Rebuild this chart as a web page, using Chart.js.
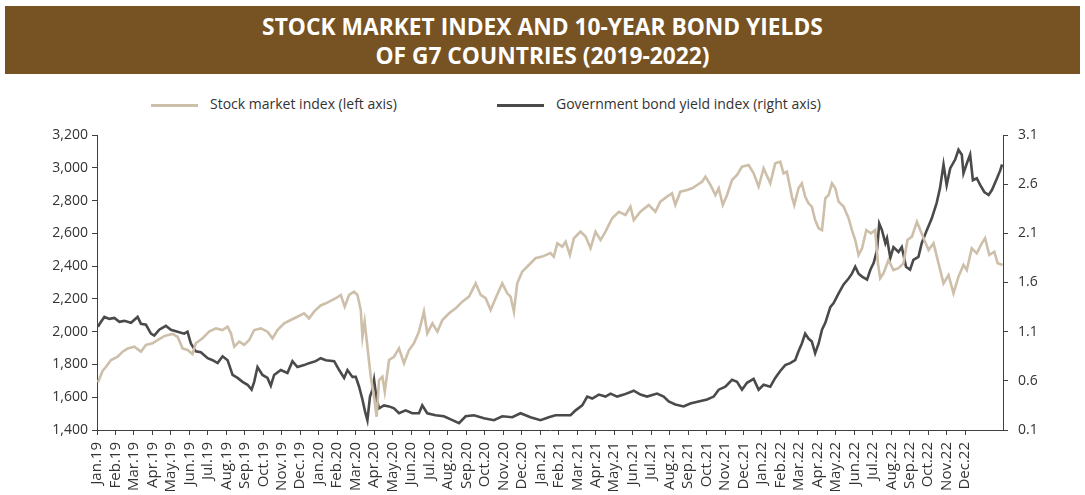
<!DOCTYPE html>
<html>
<head>
<meta charset="utf-8">
<script src="https://cdn.jsdelivr.net/npm/chart.js@4"></script>
<style>
  body { margin: 0; background: #fff; font-family: "Open Sans", sans-serif; }
  #banner {
    position: absolute; left: 5px; top: 6px; width: 1075px; height: 68px;
    background: #775222; color: #fff; text-align: center;
  }
  #banner div {
    font-weight: bold; font-size: 23px; line-height: 29px;
    transform: scaleX(0.99); white-space: nowrap;
  }
  #banner .l1 { margin-top: 6px; }
  #legend { position: absolute; top: 94px; left: 0; width: 1085px; height: 20px; font-size: 14px; color: #333; }
  .item { position: absolute; top: 0; white-space: nowrap; line-height: 20px; }
  .swatch { display: inline-block; width: 47px; height: 3px; vertical-align: middle; margin-right: 12px; }
  #wrap { position: absolute; left: 0; top: 80px; width: 1085px; height: 415px; }
</style>
</head>
<body>
<div id="banner"><div class="l1">STOCK MARKET INDEX AND 10-YEAR BOND YIELDS</div><div>OF G7 COUNTRIES (2019-2022)</div></div>
<div id="legend"></div>
<div id="wrap"><canvas id="chart" width="1085" height="415"></canvas></div>
<script>
// month axis: 0 = Jan 2019
var monthLabels = ['Jan.19','Feb.19','Mar.19','Apr.19','May.19','Jun.19','Jul.19','Aug.19','Sep.19','Oct.19','Nov.19','Dec.19',
  'Jan.20','Feb.20','Mar.20','Apr.20','May.20','Jun.20','Jul.20','Aug.20','Sep.20','Oct.20','Nov.20','Dec.20',
  'Jan.21','Feb.21','Mar.21','Apr.21','May.21','Jun.21','Jul.21','Aug.21','Sep.21','Oct.21','Nov.21','Dec.21',
  'Jan.22','Feb.22','Mar.22','Apr.22','May.22','Jun.22','Jul.22','Aug.22','Sep.22','Oct.22','Nov.22','Dec.22'];

var leftTicks = [1400, 1600, 1800, 2000, 2200, 2400, 2600, 2800, 3000, 3200];
var rightTicks = [0.1, 0.6, 1.1, 1.6, 2.1, 2.6, 3.1];

var stockMonths = [0.05,0.3,0.49,0.76,1.12,1.39,1.66,2.02,2.38,2.65,3.01,3.28,3.64,4.09,4.36,4.63,4.9,5.17,5.35,5.71,
  6.07,6.44,6.8,7.07,7.25,7.43,7.7,7.97,8.24,8.51,8.87,9.23,9.5,9.77,10.13,10.49,10.85,11.21,11.48,11.75,
  12.11,12.39,12.93,13.2,13.41,13.65,13.92,14.1,14.28,14.37,14.49,14.64,14.82,15.0,15.14,15.27,15.45,15.58,15.81,16.08,
  16.35,16.62,16.89,17.16,17.43,17.7,17.88,18.16,18.43,18.7,19.06,19.42,19.78,20.14,20.5,20.77,21.04,21.31,21.58,21.94,
  22.21,22.39,22.57,22.75,23.02,23.38,23.74,24.1,24.55,24.73,24.92,25.19,25.37,25.6,25.82,26.18,26.45,26.72,26.99,27.26,
  27.53,27.89,28.25,28.61,28.88,29.06,29.42,29.87,30.23,30.5,30.86,31.13,31.31,31.58,31.95,32.22,32.49,32.76,32.94,33.21,
  33.48,33.66,33.88,34.11,34.38,34.65,34.92,35.28,35.55,35.82,36.09,36.45,36.72,36.99,37.17,37.35,37.62,37.75,37.98,38.16,
  38.34,38.52,38.7,38.88,39.07,39.25,39.43,39.61,39.79,39.97,40.15,40.42,40.69,40.87,41.05,41.23,41.42,41.65,41.9,42.13,
  42.28,42.4,42.58,42.85,43.12,43.39,43.66,43.88,44.12,44.39,44.57,44.79,45.02,45.29,45.56,45.83,46.1,46.37,46.64,46.91,
  47.09,47.36,47.63,47.9,48.08,48.31,48.58,48.76,49.03];
var stockValues = [1690,1760,1786,1827,1847,1878,1898,1908,1878,1919,1929,1949,1973,1986,1969,1898,1888,1864,1929,1959,
  2000,2020,2010,2030,1990,1908,1939,1919,1949,2010,2020,2000,1959,2010,2051,2071,2091,2112,2081,2122,
  2160,2173,2204,2224,2153,2224,2244,2224,2132,1969,2061,1908,1725,1603,1481,1705,1725,1634,1827,1847,
  1898,1807,1888,1929,2000,2122,1990,2051,2000,2071,2112,2143,2183,2214,2295,2224,2204,2132,2204,2295,
  2234,2214,2122,2295,2366,2407,2448,2458,2480,2458,2539,2519,2549,2468,2570,2610,2580,2509,2610,2559,
  2610,2692,2732,2712,2763,2681,2732,2773,2732,2793,2824,2844,2773,2854,2864,2875,2895,2915,2946,2895,
  2834,2875,2773,2834,2925,2956,3007,3017,2966,2885,2997,2905,3027,3037,2966,2976,2824,2773,2875,2905,
  2824,2783,2763,2681,2631,2620,2814,2834,2905,2875,2793,2763,2692,2620,2559,2468,2509,2620,2600,2620,
  2417,2326,2356,2437,2376,2387,2417,2559,2580,2671,2620,2559,2498,2539,2417,2295,2346,2234,2336,2407,
  2376,2509,2478,2539,2570,2468,2488,2417,2407];

var bondMonths = [0.05,0.18,0.4,0.67,0.94,1.21,1.48,1.84,2.2,2.38,2.65,2.92,3.1,3.37,3.73,4.0,4.36,4.72,4.9,5.08,
  5.35,5.62,5.99,6.26,6.53,6.8,7.07,7.34,7.61,7.88,8.15,8.37,8.51,8.69,8.96,9.23,9.41,9.59,9.95,10.31,
  10.58,10.85,11.21,11.48,11.84,12.11,12.39,12.84,13.11,13.38,13.56,13.83,14.01,14.19,14.37,14.51,14.64,14.78,14.91,15.0,
  15.13,15.27,15.54,15.81,16.08,16.35,16.71,17.07,17.43,17.61,17.88,18.33,18.78,19.24,19.6,19.96,20.41,20.95,21.49,21.94,
  22.48,22.93,23.47,24.01,24.46,24.82,25.37,25.64,25.91,26.27,26.54,26.81,27.17,27.53,27.8,28.16,28.52,29.06,29.42,29.78,
  30.32,30.68,30.95,31.31,31.76,32.12,32.57,33.03,33.39,33.66,34.02,34.38,34.65,34.92,35.19,35.55,35.82,36.09,36.45,36.72,
  36.99,37.26,37.53,37.8,37.98,38.16,38.34,38.52,38.7,38.88,39.07,39.25,39.43,39.7,39.88,40.15,40.42,40.69,40.87,41.05,
  41.23,41.42,41.69,41.87,42.05,42.23,42.35,42.5,42.68,42.77,42.95,43.12,43.39,43.57,43.8,44.02,44.2,44.47,44.65,44.92,
  45.19,45.46,45.64,45.83,46.0,46.19,46.46,46.64,46.82,46.91,47.09,47.27,47.42,47.63,47.82,48.04,48.27,48.45,48.68,48.9,49.0];
var bondValues = [1.15,1.19,1.25,1.23,1.24,1.2,1.21,1.19,1.25,1.18,1.17,1.08,1.06,1.12,1.16,1.12,1.1,1.08,1.1,0.98,
  0.9,0.89,0.83,0.81,0.78,0.85,0.81,0.66,0.63,0.59,0.56,0.51,0.59,0.74,0.66,0.63,0.55,0.66,0.71,0.68,
  0.8,0.74,0.76,0.78,0.8,0.83,0.81,0.8,0.71,0.63,0.71,0.64,0.64,0.54,0.41,0.29,0.2,0.44,0.51,0.61,
  0.42,0.32,0.35,0.34,0.32,0.27,0.3,0.27,0.27,0.35,0.27,0.25,0.24,0.2,0.17,0.24,0.25,0.22,0.2,0.24,
  0.23,0.27,0.23,0.2,0.23,0.25,0.25,0.25,0.3,0.35,0.44,0.42,0.46,0.44,0.47,0.44,0.46,0.5,0.46,0.44,
  0.47,0.44,0.39,0.36,0.34,0.37,0.39,0.41,0.44,0.51,0.54,0.61,0.59,0.51,0.58,0.62,0.51,0.56,0.54,0.63,
  0.7,0.76,0.78,0.81,0.9,0.98,1.08,1.03,1.0,0.88,0.98,1.12,1.19,1.35,1.39,1.49,1.58,1.64,1.69,1.76,
  1.69,1.66,1.63,1.73,1.8,1.93,2.2,2.13,2.0,2.05,1.85,1.96,1.91,1.96,1.76,1.73,1.83,1.86,2.0,2.13,
  2.25,2.41,2.56,2.8,2.59,2.76,2.85,2.95,2.9,2.71,2.81,2.9,2.64,2.66,2.59,2.52,2.49,2.54,2.64,2.74,2.8];

var stockColor = '#cdbfa9';
var bondColor = '#4a4a4a';
var axisColor = '#404040';
var textColor = '#333333';

function toPoints(xs, ys) {
  return xs.map(function (x, i) { return { x: x, y: ys[i] }; });
}

var chart = new Chart(document.getElementById('chart'), {
  type: 'line',
  data: {
    datasets: [
      {
        label: 'Stock market index (left axis)',
        data: toPoints(stockMonths, stockValues),
        borderColor: stockColor,
        borderWidth: 2.6,
        pointRadius: 0,
        yAxisID: 'y'
      },
      {
        label: 'Government bond yield index (right axis)',
        data: toPoints(bondMonths, bondValues),
        borderColor: bondColor,
        borderWidth: 2.6,
        pointRadius: 0,
        yAxisID: 'y1'
      }
    ]
  },
  options: {
    responsive: false,
    animation: false,
    devicePixelRatio: 1,
    layout: { padding: { top: 55, left: 0, right: 0, bottom: 0 } },
    plugins: { legend: { display: false }, tooltip: { enabled: false } },
    scales: {
      x: {
        type: 'linear',
        min: 0,
        max: 49.05,
        afterBuildTicks: function (s) { s.ticks = monthLabels.map(function (l, i) { return { value: i }; }); },
        afterFit: function (s) { s.height = 65; },
        ticks: {
          autoSkip: false, minRotation: 90, maxRotation: 90, padding: 7,
          color: textColor, font: { family: 'Open Sans', size: 15 },
          callback: function (v) { return monthLabels[v]; }
        },
        grid: { drawOnChartArea: false, tickLength: 5, color: axisColor },
        border: { color: axisColor }
      },
      y: {
        position: 'left',
        min: 1400,
        max: 3200,
        afterBuildTicks: function (s) { s.ticks = leftTicks.map(function (v) { return { value: v }; }); },
        afterFit: function (s) { s.width = 97; },
        ticks: {
          padding: 4, color: textColor, font: { family: 'Open Sans', size: 14 },
          callback: function (v) { return v.toLocaleString('en-US'); }
        },
        grid: { drawOnChartArea: false, tickLength: 5, color: axisColor },
        border: { color: axisColor }
      },
      y1: {
        position: 'right',
        min: 0.1,
        max: 3.1,
        afterBuildTicks: function (s) { s.ticks = rightTicks.map(function (v) { return { value: v }; }); },
        afterFit: function (s) { s.width = 82; },
        ticks: {
          padding: 10, color: textColor, font: { family: 'Open Sans', size: 14 },
          callback: function (v) { return v.toFixed(1); }
        },
        grid: { drawOnChartArea: false, tickLength: 5, color: axisColor },
        border: { color: axisColor }
      }
    }
  }
});

// legend built from the datasets
var legendLeft = [151, 497];
var legend = document.getElementById('legend');
chart.data.datasets.forEach(function (ds, i) {
  var item = document.createElement('div');
  item.className = 'item';
  item.style.left = legendLeft[i] + 'px';
  item.innerHTML = '<span class="swatch" style="background:' + ds.borderColor + '"></span>' + ds.label;
  legend.appendChild(item);
});
</script>
</body>
</html>
